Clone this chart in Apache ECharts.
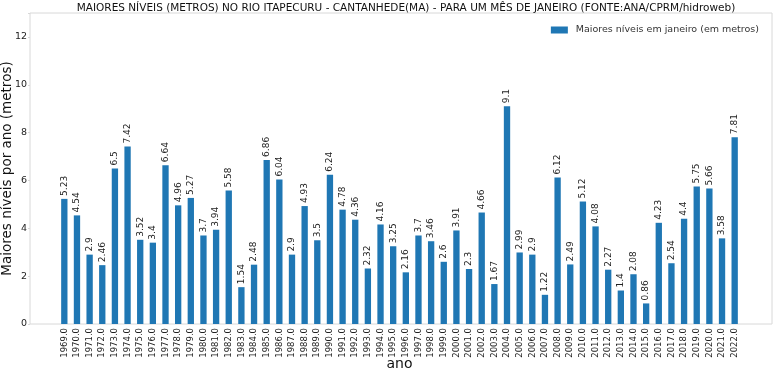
<!DOCTYPE html>
<html>
<head>
<meta charset="utf-8">
<script src="https://cdn.jsdelivr.net/npm/echarts@6/dist/echarts.min.js"></script>
<style>html,body{margin:0;padding:0;background:#fff;}#c{width:774px;height:373px;}</style>
</head>
<body>
<div id="c"></div>
<script>
const years = ['1969.0','1970.0','1971.0','1972.0','1973.0','1974.0','1975.0','1976.0','1977.0','1978.0','1979.0','1980.0','1981.0','1982.0','1983.0','1984.0','1985.0','1986.0','1987.0','1988.0','1989.0','1990.0','1991.0','1992.0','1993.0','1994.0','1995.0','1996.0','1997.0','1998.0','1999.0','2000.0','2001.0','2002.0','2003.0','2004.0','2005.0','2006.0','2007.0','2008.0','2009.0','2010.0','2011.0','2012.0','2013.0','2014.0','2015.0','2016.0','2017.0','2018.0','2019.0','2020.0','2021.0','2022.0'];
const levels = [5.23,4.54,2.9,2.46,6.5,7.42,3.52,3.4,6.64,4.96,5.27,3.7,3.94,5.58,1.54,2.48,6.86,6.04,2.9,4.93,3.5,6.24,4.78,4.36,2.32,4.16,3.25,2.16,3.7,3.46,2.6,3.91,2.3,4.66,1.67,9.1,2.99,2.9,1.22,6.12,2.49,5.12,4.08,2.27,1.4,2.08,0.86,4.23,2.54,4.4,5.75,5.66,3.58,7.81];
const yTicks = [0,2,4,6,8,10,12];
const titleText = 'MAIORES NÍVEIS (METROS) NO RIO ITAPECURU - CANTANHEDE(MA) - PARA UM MÊS DE JANEIRO (FONTE:ANA/CPRM/hidroweb)';
const seriesName = 'Maiores níveis em janeiro (em metros)';

const F = 'DejaVu Sans';
const chart = echarts.init(document.getElementById('c'), null, {renderer:'canvas'});
chart.setOption({
  animation:false,
  title:{text:titleText,left:401,textAlign:'center',top:-2,textStyle:{fontFamily:F,fontSize:10.5,fontWeight:'normal',color:'#111'}},
  legend:{data:[seriesName],right:10,top:20,icon:'rect',itemWidth:17,itemHeight:7,itemGap:6,
    textStyle:{fontFamily:F,fontSize:9.5,color:'#333',padding:[0,0,0,3]}},
  grid:[
    {left:30,right:2,top:13,bottom:49,show:true,borderColor:'#d8d8d8',borderWidth:1,containLabel:false,outerBoundsMode:'none'},
    {left:58,right:33,top:13,bottom:49,containLabel:false,outerBoundsMode:'none'}
  ],
  xAxis:[
    {gridIndex:0,type:'value',min:0,max:1,show:false},
    {gridIndex:1,type:'category',data:years,boundaryGap:true,
      axisLine:{show:false},axisTick:{show:false},
      axisLabel:{rotate:90,interval:0,fontFamily:F,fontSize:8.5,color:'#222',margin:4},
      name:'ano',nameLocation:'middle',nameGap:33,nameMoveOverlap:false,
      nameTextStyle:{fontFamily:F,fontSize:14,color:'#111'}}
  ],
  yAxis:[
    {gridIndex:0,type:'value',min:0,max:13,interval:2,
      axisLine:{show:false},axisTick:{show:true,length:2,lineStyle:{color:'#d8d8d8'}},splitLine:{show:false},
      axisLabel:{fontFamily:F,fontSize:9.5,color:'#222',margin:3,
        formatter:v=>yTicks.includes(v)?String(v):''},
      name:'Maiores níveis por ano (metros)',nameLocation:'middle',nameGap:16,nameMoveOverlap:false,
      nameTextStyle:{fontFamily:F,fontSize:13.5,color:'#111'}},
    {gridIndex:1,type:'value',min:0,max:13,show:false}
  ],
  series:[{
    name:seriesName,type:'bar',xAxisIndex:1,yAxisIndex:1,data:levels,barWidth:'50%',
    itemStyle:{color:'#1f77b4'},
    label:{show:true,position:'top',rotate:90,align:'left',verticalAlign:'middle',distance:3,
      fontFamily:F,fontSize:9,color:'#222'}
  }]
});
</script>
</body>
</html>
